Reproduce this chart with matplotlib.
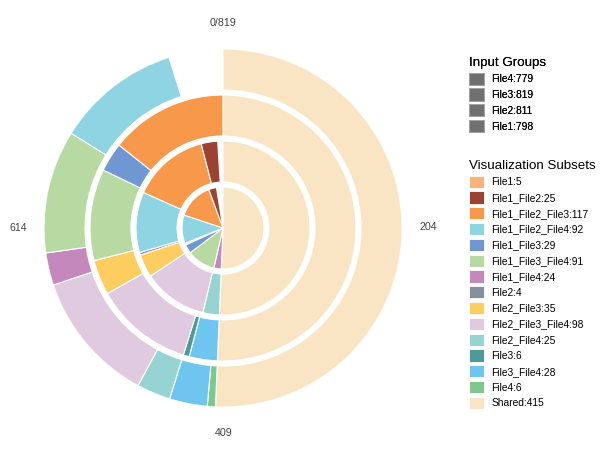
import numpy as np
import matplotlib.pyplot as plt
from matplotlib.patches import Patch

plt.rcParams['font.family'] = ['Liberation Sans', 'DejaVu Sans']

# full angular scale of the chart
total = 819
tick_values = [0, 204, 409, 614]
tick_labels = ['0/819', '204', '409', '614']

# input groups (legend order) and their sizes
group_names = ['File4', 'File3', 'File2', 'File1']
group_sizes = [779, 819, 811, 798]

# subsets (legend order)
subset_names = ['File1', 'File1_File2', 'File1_File2_File3', 'File1_File2_File4',
                'File1_File3', 'File1_File3_File4', 'File1_File4', 'File2',
                'File2_File3', 'File2_File3_File4', 'File2_File4', 'File3',
                'File3_File4', 'File4', 'Shared']
subset_sizes = [5, 25, 117, 92, 29, 91, 24, 4, 35, 98, 25, 6, 28, 6, 415]
subset_colors = ['#fdb27a', '#9c4232', '#f7984b', '#8fd4e2', '#6f97d1', '#b6daa1',
                 '#c488bd', '#858f9d', '#fdcd60', '#e0cadf', '#96d4d3', '#4e9a99',
                 '#6ec6f0', '#7ec890', '#f9e5c3']

# order of the subsets round each ring, inner ring first
ring_files = ['File1', 'File2', 'File3', 'File4']
ring_order = {
    'File1': ['Shared', 'File1_File4', 'File1_File3_File4', 'File1_File3', 'File1',
              'File1_File2_File4', 'File1_File2_File3', 'File1_File2'],
    'File2': ['Shared', 'File2_File4', 'File2_File3_File4', 'File2_File3', 'File2',
              'File1_File2_File4', 'File1_File2_File3', 'File1_File2'],
    'File3': ['Shared', 'File3_File4', 'File3', 'File2_File3_File4', 'File2_File3',
              'File1_File3_File4', 'File1_File3', 'File1_File2_File3'],
    'File4': ['Shared', 'File4', 'File3_File4', 'File2_File4', 'File2_File3_File4',
              'File1_File4', 'File1_File3_File4', 'File1_File2_File4'],
}

size_of = dict(zip(subset_names, subset_sizes))
color_of = dict(zip(subset_names, subset_colors))

fig = plt.figure(figsize=(6, 4.57), dpi=100)
ax = fig.add_axes([44 / 600, 50 / 457, 358 / 600, 358 / 457], projection='polar')
ax.set_theta_zero_location('N')
ax.set_theta_direction(-1)

ring_width = 41
ring_step = 46
for i, rf in enumerate(ring_files):
    start = 0
    for name in ring_order[rf]:
        val = size_of[name]
        ax.bar(start / total * 2 * np.pi, ring_width, width=val / total * 2 * np.pi,
               bottom=i * ring_step, align='edge', color=color_of[name],
               edgecolor='white', linewidth=0.8)
        start += val

ax.set_ylim(0, 179)
ax.axis('off')

for v, lab in zip(tick_values, tick_labels):
    ax.text(v / total * 2 * np.pi, 205, lab, ha='center', va='center',
            fontsize=7.7, color='#444444', clip_on=False)

# legends
leg_kw = dict(loc='upper left', frameon=False, title_fontsize=9.6, fontsize=7.4,
              alignment='left', handlelength=1.45, handleheight=1.45,
              handletextpad=0.7, labelspacing=0.35, borderpad=0, borderaxespad=0)

grp_handles = [Patch(facecolor='#707070', edgecolor='#a8a8a8', linewidth=0.6) for g in group_names]
grp_labels = ['%s:%d' % (g, s) for g, s in zip(group_names, group_sizes)]
leg1 = fig.legend(grp_handles, grp_labels, bbox_to_anchor=(469 / 600, 1 - 57 / 457),
                  title='Input Groups', **leg_kw)
fig.add_artist(leg1)

sub_handles = [Patch(facecolor=c, edgecolor='white', linewidth=0.6) for c in subset_colors]
sub_labels = ['%s:%d' % (n, s) for n, s in zip(subset_names, subset_sizes)]
fig.legend(sub_handles, sub_labels, bbox_to_anchor=(469 / 600, 1 - 160 / 457),
           title='Visualization Subsets', **leg_kw)

fig.savefig('out.png', dpi=100)
